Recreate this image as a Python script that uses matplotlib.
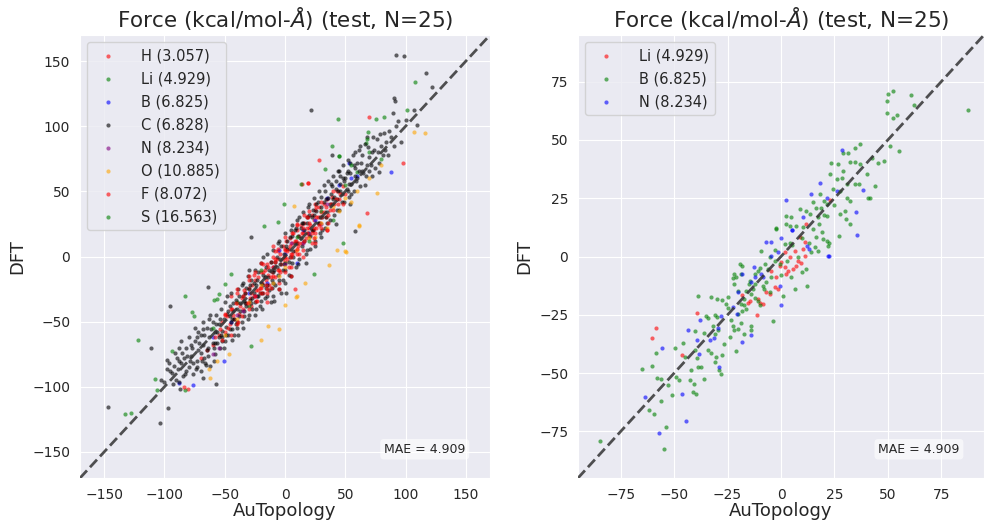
import matplotlib
matplotlib.use("Agg")
import matplotlib.pyplot as plt
import seaborn as sns

sns.set_style("darkgrid")

# ---------------- left panel: all elements ----------------
h_x = [-60, -55, -52, -50, -48, -46, -44, -42, -40, -38, -36, -35, -33, -32, -30, -29, -28, -27, -26, -25,
       -24, -23, -22, -21, -20, -19, -18, -17, -16, -15, -14, -13, -12, -11, -10, -9, -8, -7, -6, -5,
       -4, -3, -2, -1, 0, 0, 1, 2, 3, 4, 5, 6, 7, 8, 9, 10, 11, 12, 13, 14,
       15, 16, 17, 18, 19, 20, 21, 22, 23, 24, 25, 26, 27, 28, 29, 30, 32, 34, 35, 37,
       39, 41, 43, 45, 48, 50, -65, -70, 35, -45, 5, 15, -5, 25,
       69.6, 28.2, 18.8, -80.6, 8.5, 19.1]
h_y = [-68, -60, -50, -58, -46, -52, -40, -48, -36, -44, -32, -40, -28, -36, -24, -32, -38, -22, -30, -18,
       -26, -34, -16, -24, -12, -20, -28, -10, -18, -6, -14, -22, -4, -12, 0, -8, -16, -2, 4, -10,
       2, -6, 8, 0, -4, 6, 12, -2, 6, 14, 2, 10, 18, 4, 12, 20, 8, 16, 24, 10,
       18, 26, 14, 22, 30, 16, 24, 32, 20, 28, 36, 22, 30, 38, 26, 34, 40, 30, 44, 36,
       46, 40, 50, 44, 54, 48, -72, -78, 20, -30, -8, 5, -20, 40,
       107.2, 74.1, 56.7, -101.5, -24.6, 56.7]

li_x = [-132.3, -121.5, -83.1, -77, -50, -54.7, -82.6, -107.4, -93.6, -44.5, 24, -0.8, -17.7,
        44.5, 107.4, 44.2, 75.7, 101, 68.5, 66.9, 38.7, 32.9, -40, 0, 30, 60, -30, 40, 70]
li_y = [-120.5, -64.4, -30.2, -42.5, -21.3, -29, -102.3, -94.1, -72.8, -13.3, -13.1, 40, 23.3,
        77.2, 133.6, 105.9, 105.4, 112.8, 95.4, 87.2, 84.9, 66.9, -35, -5, 35, 65, -38, 28, 80]

b_x = [-76.5, -87.6, -50.3, -45, -30, -15, 0, 15, 25, 35, 45, 55, -60, 10, -5, 60, 52.8, 88]
b_y = [-98.7, -97.2, -80.3, -50, -28, -20, 2, 20, 28, 45, 55, 60, -62, -5, 5, 62, 72.1, 65.2]

c_x = [-95, -90, -88, -85, -82, -80, -78, -76, -75, -73, -72, -70, -70, -68, -67, -65, -65, -63, -62, -60,
       -60, -58, -58, -57, -55, -55, -54, -53, -52, -51, -50, -50, -49, -48, -47, -46, -45, -45, -44, -43,
       -42, -41, -40, -40, -39, -38, -37, -36, -35, -35, -34, -33, -32, -31, -30, -30, -29, -28, -27, -26,
       -25, -25, -24, -23, -22, -21, -20, -20, -19, -18, -17, -16, -15, -15, -14, -13, -12, -11, -10, -10,
       -9, -8, -7, -6, -5, -5, -4, -3, -2, -1, 0, 0, 1, 2, 3, 4, 5, 6, 7, 8,
       9, 10, 11, 12, 13, 14, 15, 16, 17, 18, 19, 20, 21, 22, 23, 24, 25, 26, 27, 28,
       29, 30, 31, 32, 33, 34, 35, 36, 37, 38, 39, 40, 41, 42, 43, 44, 45, 46, 47, 48,
       49, 50, 51, 52, 53, 54, 55, 56, 57, 58, 60, 61, 62, 63, 65, 66, 68, 70, 72, 74,
       76, 78, 80, 82, 85, 88, 92, 96,
       -75, -68, -62, -80, -72, -66, -59, -52, -48, -42, -36, -30, -24, -18, -12, -6, 0, 6, 12, 18,
       24, 30, 36, 42, 48, 54, 60, 66, 72, 78, 84, 62, 68, 58, 52, 46, 44, 38, 32, 26,
       20, 14, 8, 2, -4, -10, -16, -22, -28, -34, -40, -46, -52, -58, -64, -70, -76, -82, -88, -92,
       -84, -78, -86, -91,
       91.7, 98.6, 116.8, 21.3, 90.6, 91.1, 106.6, 100.2, 109.4, 89.7, 121.8, -146.9, -103.6, -96.7,
       -110.8, -95.3, -63.8, -57.2, -103, -97.8, -96.4, -93.6, -88.1, -85.3, -89.5, -72.9, -65.4,
       -67.9, 58.2, 38.9, -27.9,
       -86, -83, -79, -77, -74, -71, -69, -67, -64, -61, -59, -56, -54, -51, -49, -47, -44, -43, -41, -39,
       -37, -35, -33, -31, -29, -27, -25, -23, -21, -19, -17, -15, -13, -11, -9, -7, -5, -3, -1, 1,
       3, 5, 7, 9, 11, 13, 15, 17, 19, 21, 23, 25, 27, 29, 31, 33, 35, 37, 39, 41,
       43, 45, 47, 49, 51, 53, 55, 57, 59, 61, 64, 67, 69, 71, 73, 75, 77, 79, 81, 83,
       86, 90, 94, -100, -98, -93, -89, -87, -81, -73, -68, -63, -57, -53, -46, -38, -34, -26, -18, -10,
       -2, 4, 10, 16, 22, 28, 34, 40, 46, 52, 58, 64, 70, -32, -44, -56, -20, -8, 6, 18,
       30, 42, 54]
c_y = [-88, -95, -80, -92, -70, -85, -76, -90, -65, -80, -72, -60, -88, -68, -78, -55, -72, -62, -84, -50,
       -66, -58, -75, -45, -62, -52, -70, -40, -57, -48, -65, -35, -54, -44, -60, -38, -50, -28, -56, -42,
       -48, -33, -55, -40, -25, -46, -36, -50, -30, -20, -42, -28, -38, -15, -45, -25, -33, -18, -40, -28,
       -10, -35, -22, -30, -12, -38, -20, -5, -28, -14, -32, -8, -22, 2, -16, -26, -4, -18, -30, 5,
       -10, -22, 0, -14, 12, -25, -6, 8, -18, 2, -10, 18, -28, 6, -4, 15, -15, 24, 0, 10,
       -8, 28, 16, -2, 22, 8, 34, 12, -5, 26, 18, 40, 6, 30, 20, 45, 12, 35, 26, 50,
       18, 38, 30, 55, 22, 44, 34, 58, 28, 48, 40, 62, 32, 52, 44, 66, 36, 56, 48, 70,
       42, 60, 52, 74, 46, 64, 56, 78, 50, 68, 60, 82, 54, 72, 64, 86, 70, 76, 62, 82,
       90, 72, 85, 95, 78, 92, 100, 88,
       -55, -50, -45, -62, -58, -82, -70, -65, -30, -60, -22, -10, -40, 0, -35, 10, -20, -5, 30, 5,
       32, 15, 45, 25, 60, 40, 72, 55, 80, 65, 88, 85, 92, 80, 66, 62, 50, 56, 42, 40,
       32, 26, 20, 12, -2, -12, -24, -30, -36, -46, -50, -56, -62, -66, -70, -74, -82, -88, -96, -84,
       -78, -68, -65, -74,
       154.8, 154, 140.5, 112.8, 121.3, 119.5, 112.8, 104.9, 100.8, 109.8, 129.8, -115.2, -127.9, -115.9,
       -70.5, -37.9, -23.6, -98.2, -94.6, -79.2, -81.8, -89.5, -70.2, -74.1, -77.9, -84.9, -83.6,
       -93.6, 19.2, 77.9, 15.1,
       -82, -90, -80, -70, -86, -66, -80, -60, -76, -56, -80, -66, -48, -70, -60, -42, -64, -36, -52, -60,
       -42, -55, -36, -48, -22, -32, -45, -18, -28, -40, -16, -30, -10, -24, -34, -8, -18, -28, -6, 8,
       -14, 20, 4, 22, -6, 14, 26, 2, 38, 16, 36, 8, 42, 30, 20, 50, 26, 40, 54, 46,
       36, 66, 42, 58, 64, 56, 48, 70, 58, 66, 78, 62, 84, 70, 92, 68, 80, 94, 78, 82,
       96, 85, 104, -96, -86, -98, -86, -102, -76, -62, -56, -48, -52, -60, -46, -30, -34, -20, -22, -20,
       -10, 0, 10, 20, 20, 26, 30, 44, 50, 50, 62, 66, 66, -24, -48, -58, -34, -4, 16, 30,
       46, 58, 72]

n_x = [-40, -25, -10, 5, 20, 35, -55, -60, 15, 30, -35, 0]
n_y = [-45, -30, -8, 10, 18, 40, -70, -75, 10, 25, -42, -6]

o_x = [-62.4, -63.2, -56.3, -46.6, -14.1, -19.9, 9.4, -5.2, 36.2, 50.3, 42.8, 61.3, 0.3, 7.2, 49.4,
       61.6, 76.2, 9.9, 16.8, 106.6, 115.7, -30, -20, -10, 0, 10, 20, 30, 40, 50, 60, -40, 25, -5,
       35, 45, 55, 70, 80, -50]
o_y = [-93.6, -86.4, -80.5, -74.8, -53.6, -63.8, -31, -55.6, -6.2, 3.1, 4.8, 24.1, -36.9, 38.7, 4.6,
       23.3, 49, -30.5, -20.2, 95.6, 94.6, -35, -22, -20, -8, 5, 14, 26, 38, 45, 50, -48, 15, -15,
       22, 35, 42, 60, 70, -60]

f_x = [-30, -20, -10, 0, 10, 20, 30, -40, 40, 15, -25, 98, -83.9, 14.1, 67.9, -15, 5, 25, -35, -8,
       -58, -54, -50, -47, -43, -41, -39, -37, -34, -31, -28, -25, -22, -20, -18, -16, -14, -12, -10, -8,
       -6, -4, -2, 0, 2, 4, 6, 8, 10, 12, 14, 16, 18, 20, 22, 24, 26, 28, 30, 32,
       34, 36, 38, 40, 42, 44, 46, -36, -24, -12, 0, 12, 24, 36, -30, -18, -6, 6, 18, 30,
       -45, -15, 3, 22, -26, -8, 10, 26, -52, 48, -40, 16,
       -20, -10, 0, 10, -30, 20, -15, -5, 5, 15, 25, 35, -40, -50, -45]
f_y = [-40, -28, -15, 5, 2, 26, 22, -52, 50, 22, -12, 71.5, -99.8, 55.6, 33.6, -25, 0, 18, -30, -2,
       -62, -56, -44, -55, -45, -36, -50, -38, -26, -36, -28, -30, -26, -24, -12, -22, -8, -16, -8, -4,
       -10, -12, -2, 0, 4, 8, 2, 12, 6, 10, 18, 12, 18, 22, 18, 22, 30, 24, 30, 34,
       38, 32, 40, 36, 44, 40, 48, -46, -34, -24, -12, 2, 14, 26, -18, -6, 6, 18, 30, 42,
       -60, -28, -8, 10, -14, 4, 24, 38, -64, 40, -28, 32,
       -5, 8, 15, 25, -15, 35, -35, -25, -15, 0, 10, 20, -25, -45, -40]

s_x = [-127.3, -75.6, -59.1, -56.3, -105.8, -27.9, -6.1, 82.3, 67.7, 44.7, 13.3, 48, -20, 10,
       50, -60, 20, 55, 80]
s_y = [-119.8, -45.4, -33.1, -32.5, -102.3, -68.5, 26.4, 106.7, 90.5, 77.2, 55.4, 10.5, -10, 15,
       55, -55, 12, 70, 75]

left_labels = ["H (3.057)", "Li (4.929)", "B (6.825)", "C (6.828)", "N (8.234)",
               "O (10.885)", "F (8.072)", "S (16.563)"]
left_x = [h_x, li_x, b_x, c_x, n_x, o_x, f_x, s_x]
left_y = [h_y, li_y, b_y, c_y, n_y, o_y, f_y, s_y]

# ---------------- right panel: Li, B, N ----------------
r_li_x = [-58.6, -60.5, -39.5, -46.5, -18.3, -15.5, -14.7, -11.3, -10.8, -10, -8.5, -6.9, -5.3, -3,
          -1.4, -2.2, -4.6, -0.6, 0.2, 1.7, 2.5, 3.3, 5.6, 7.2, 8, 2, 4.1, 6.4, 8.8, 11.1, 10.3,
          11.1, 9.5, 22.9, 11.9]
r_li_y = [-30.7, -35, -24.1, -42.4, -16.3, -20, -18.9, -25, -18.2, -20, -20.3, -15.3, -16, -13.2,
          -13.9, -8.9, -6.1, -3.9, -2.5, -4.6, -7.5, -6.1, -5.3, -3.9, -1.8, 1.8, -0.3, 2.5, 8.2, 6.1, 3.2,
          0.3, -2.9, 24.1, 13.9]

r_b_x = [-84.8, -64.9, -60.2, -58.4, -57.8, -56.3, -56.3, -61.7, -59.4, -53.6, -54.7, -53.1, -50.8,
         -49.7, -49, -45.9, -47.6, -42.2, -42.5, -40.6, -41.1, -45, -40.1, -39.4, -39, -37.5, -39.6,
         -35.9, -40.3, -35.9, -35.1, -34.3, -39, -32.8, -29.9, -27.7, -24.9, -25.7, -30.9, -29.9, -32,
         -29.6, -30.9, -34.3, -32.8, -30.4, -30.9, -28.8, -28.1, -27.7, -26.5, -24.1, -23.4, -22.6,
         -21.8, -21, -20.2, -18.7, -17.4, -20.2, -18.3, -17.1, -16.3, -14, -14, -17.1, -18.7, -21.8,
         -21, -18.7, -19.4, -18.3, -16.3, -14.2, -13.2, -12.4, -10.8, -10, -9.3, -3.8, 0.9, 6.4, 12.4,
         9.9, 11.9, 4.8, 14.2, 15.8, 17.4, 22.1, 21.3, 16.6, 19, -2.2, 4.1, 1.7, 4.1, -3, -0.6, -8.5,
         -6.9, -5.3, -12.4, -10.8, -7.7, -6.1, -4.6, -14.7, -21.8, -22.6,
         50.3, 52.3, 60.8, 62.4, 49.8, 49.5, 52.3, 54.5, 87.6, 55, 50.8, 48, 45.6, 37, 34.6, 31.5,
         29.1, 23.6, 26.8, 29.1, 32.3, 34.6, 37, 42.5, 40.1, 44.1, 41.7, 40.9, 22.9, 26, 28.4, 30.7,
         34.6, 36.7, 24.4, 27.6, 30.7, 32.3, 29.9, 27.6, 30.2, 18.2, 20.1, 21.3, 18.5, 16.6, 15, 8.8,
         11.9, 13.8, 17.4, 21.3, 2.5, 4.8, 2.5, 7.2, -2.2, 10.3, 27.3, 32.3, 22.6, 19.7,
         -10, -5, 0, 5, 10, 15, -15, -20, -25, -8, 3, 8, 13, 18, 20, 25, -12, -3]
r_b_y = [-79, -48.4, -47.1, -41.4, -51.9, -52.4, -61.9, -65.9, -67.6, -73, -82.4, -55.2, -59.2,
         -39.4, -51.6, -37, -52.8, -48.8, -52.8, -54.8, -58, -43.1, -40.3, -43.4, -47.4, -47.6, -59.1,
         -52.4, -32.1, -32.8, -25.4, -26.3, -16.8, -17.4, -18.3, -18.6, -17.2, -20.3, -24.9, -26, -29.6,
         -31.7, -33.1, -40.3, -41.4, -43.1, -45.2, -48.8, -50.2, -42.4, -37.4, -34.5, -27.4, -29.6,
         -31.7, -40.7, -31, -28.5, -33.1, -24.6, -23.2, -21, -22.4, -29.6, -31.7, -18.3, -20.3, -11.8,
         -8.9, -7.5, -3.2, -3.9, -14.6, -16, -13.9, -11.8, -18.9, -21, 2.5, -27.7, -16.8, -13.9, -12.5,
         -6.8, -5.3, -8.9, 1.8, 3.9, 2.5, 4.6, 6.8, 8.2, 10.3, 11.8, 13.2, 5.3, 6, -1.8, -3.2, -12.5,
         -11, -15.3, -7.5, -6.1, -3.2, -5.3, -8.9, -10.3, -7.5, -9.2,
         69.7, 70.9, 69.4, 64.9, 66.6, 61.6, 59.5, 60.9, 62.9, 45.2, 47.4, 40.9, 40.3, 48.1, 46.7, 44.5,
         44.5, 40.3, 39.5, 36.7, 40.7, 40.5, 39.5, 42.4, 35.3, 30.3, 25.3, 24.9, 35.3, 33.1, 33.8, 31,
         31, 31.3, 28.8, 28.1, 25.3, 23.8, 19.6, 18.2, 16, 26.7, 23.8, 22.4, 21, 21, 23.2, 20.3,
         19.6, 18.2, 16.8, 17.4, 17.4, 16.8, 14, 13.2, 12.1, 12.5, 8.6, 13.9, 5.8, 7.5,
         -5, 0, -8, 5, 8, 12, -12, -15, -22, -14, -2, 0, 6, 14, 18, 22, -18, 3]

r_n_x = [-57, -44.5, -63.8, -46.4, -55.5, -43.3, -39.5, -38.6, -37.8, -29.1, -28.1, -29.3, -33.1,
         -31.4, -22.6, -20.5, -18.2, -14, -20.2, -18.3, -12.7, -14, -12.4, -6.9, -4.6, -0.1, -4.6, -1.4,
         -9.3, -8.5, 0.2, -0.6, 5.3, 12.4, 13, 22.1, 28.4, 18.2, 14.2, 2.5, 26, 38.6, 35.1, 10.3, 21.3,
         5.3, 35.4, 22.4]
r_n_y = [-75.9, -70.6, -60.2, -59.1, -39.1, -31.4, -35.7, -41.7, -27.1, -47.4, -25.3, -30.6, -36,
         -34.8, -21.7, -24.6, -36.7, -33.5, -15.3, -7.5, -4.4, -11, -8.9, 6.1, 6.1, 7.8, 0.3, 1.8,
         -7.5, -8.9, -21, -12.5, 11.5, 4.6, 3.2, 0.3, 45.5, 31.7, 27, 24.3, 28.1, 28.4, 18.9, 16.8, 25.3,
         11.3, 9.2, 0.3]

right_labels = ["Li (4.929)", "B (6.825)", "N (8.234)"]
right_x = [r_li_x, r_b_x, r_n_x]
right_y = [r_li_y, r_b_y, r_n_y]

colors = ["red", "green", "blue", "black", "purple", "orange", "red", "green"]
title = r"Force (kcal/mol-$\AA$) (test, N=25)"
mae_text = "MAE = 4.909"

fig = plt.figure(figsize=(9.84, 5.21), dpi=100)
ax1 = fig.add_axes([0.0813, 0.0825, 0.4167, 0.8503])
ax2 = fig.add_axes([0.5874, 0.0825, 0.4126, 0.8503])


def draw(ax, xs, ys, labels, lim, ticks):
    for i, (x, y, lab) in enumerate(zip(xs, ys, labels)):
        ax.scatter(x, y, s=9, color=colors[i], alpha=0.6, linewidths=0, label=lab)
    ax.plot([-lim, lim], [-lim, lim], linestyle="--", color="#333333", lw=2, alpha=0.85, zorder=5)
    ax.set_xlim(-lim, lim)
    ax.set_ylim(-lim, lim)
    ax.set_xticks(ticks)
    ax.set_yticks(ticks)
    ax.tick_params(labelsize=10)
    ax.set_title(title, fontsize=15.5)
    ax.set_xlabel("AuTopology", fontsize=13, labelpad=0)
    ax.set_ylabel("DFT", fontsize=13)
    ax.legend(loc="upper left", fontsize=10.5, handletextpad=1.3, labelspacing=0.55)
    ax.text(0.94, 0.065, mae_text, transform=ax.transAxes, ha="right", va="center", fontsize=9,
            bbox=dict(boxstyle="round", facecolor="white", edgecolor="none", alpha=0.6))


draw(ax1, left_x, left_y, left_labels, 170, [-150, -100, -50, 0, 50, 100, 150])
draw(ax2, right_x, right_y, right_labels, 95, [-75, -50, -25, 0, 25, 50, 75])

fig.savefig("out.png", dpi=100)
